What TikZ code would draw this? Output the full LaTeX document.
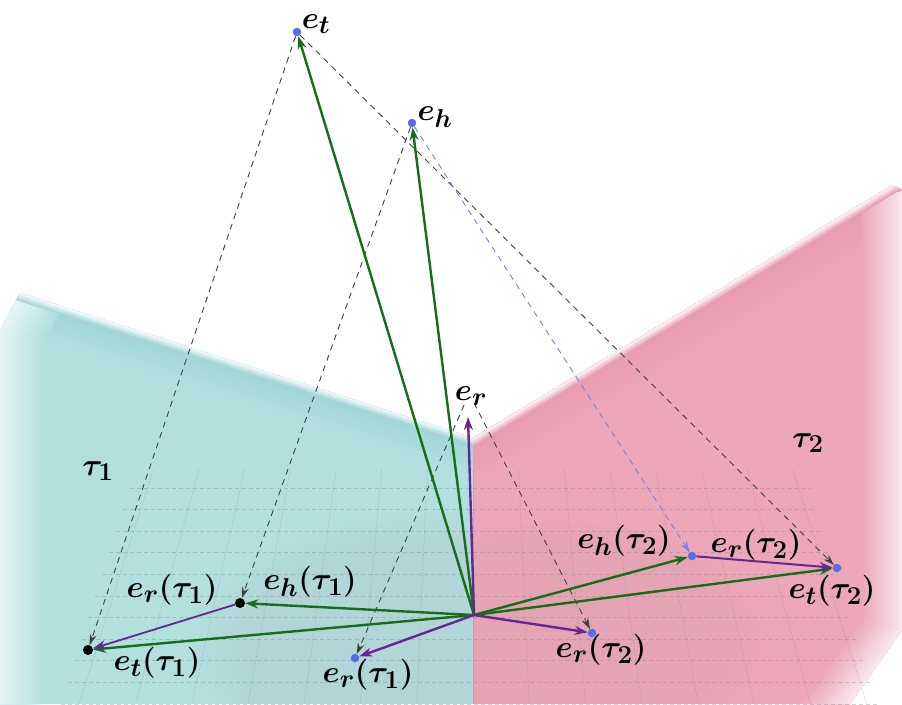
\documentclass[tikz,border=0pt]{standalone}
\usepackage{amsmath,bm}
\usetikzlibrary{arrows.meta,fadings}
\definecolor{cyanplane}{RGB}{178,224,223}
\definecolor{cyandark}{RGB}{163,215,215}
\definecolor{cyangray}{RGB}{180,204,208}
\definecolor{pinkplane}{RGB}{236,167,185}
\definecolor{pinkdark}{RGB}{232,156,177}
\definecolor{vgreen}{RGB}{22,110,25}
\definecolor{vpurple}{RGB}{100,40,145}
\definecolor{vblue}{RGB}{85,110,230}
\definecolor{gridcol}{RGB}{120,120,135}
\begin{document}
\begin{tikzpicture}[x=1pt,y=-1pt,
  every node/.style={font=\fontsize{24.88}{30}\selectfont\boldmath},
  lab/.style={inner sep=0pt,scale=1.245},
  dotb/.style={circle,fill=vblue,inner sep=0pt,minimum size=8.5pt},
  dotk/.style={circle,fill=black,inner sep=0pt,minimum size=10pt},
  garrow/.style={draw=vgreen,line width=2.4pt,-{Stealth[length=13pt,width=9pt]}},
  parrow/.style={draw=vpurple,line width=2.4pt,-{Stealth[length=13pt,width=9pt]}},
  proj/.style={draw=black!75,line width=0.9pt,dash pattern=on 6pt off 5pt,-{Stealth[length=11pt,width=7pt]}},
  projb/.style={proj,draw=vblue!85},
  gridh/.style={draw=gridcol,opacity=0.33,line width=0.8pt,dash pattern=on 4pt off 3pt},
  gridv/.style={draw=gridcol,opacity=0.33,line width=0.7pt,dash pattern=on 1.5pt off 1.5pt},
  edge/.style={line join=round,line cap=butt}]
\fill[white] (0,0) rectangle (902,704);
\useasboundingbox (0,0) rectangle (902,704);

% ---- cyan plane tau_1
\begin{scope}
  \clip (20,293) -- (473,438) -- (473,704) -- (0,704) -- (0,330) -- cycle;
  \fill[cyanplane] (0,280) rectangle (480,704);
  % darker band under the top edge
  \foreach \d in {40,38,...,10} {
    \pgfmathtruncatemacro\p{max(0,min(100,(40-\d)*100/30))}
    \draw[edge,line width=2*\d pt,color=cyandark!\p!cyanplane] (500,446) -- (20,293) -- (-20,287);
  }
  \fill[cyangray,opacity=0.45,path fading=circle with fuzzy edge 20 percent] (430,650) ellipse (240 and 140);
  % wide fade on the left
  \foreach \d in {44,42,...,2} {
    \pgfmathtruncatemacro\q{30+\d*70/44}
    \draw[edge,line width=2*\d pt,color=cyanplane!\q!white] (0,720) -- (0,330) -- (20,293) -- (40,256);
  }
  % soft top edge
  \foreach \d in {8,7,...,1} {
    \pgfmathtruncatemacro\q{\d*12.5}
    \draw[edge,line width=2*\d pt,color=cyandark!\q!white] (500,446) -- (20,293) -- (-20,287);
  }
\end{scope}

% ---- pink plane tau_2
\begin{scope}
  \clip (473,438) -- (893,185) -- (902,190) -- (902,630) -- (850,704) -- (473,704) -- cycle;
  \fill[pinkplane] (470,180) rectangle (902,704);
  \foreach \d in {40,38,...,10} {
    \pgfmathtruncatemacro\p{max(0,min(100,(40-\d)*100/30))}
    \draw[edge,line width=2*\d pt,color=pinkdark!\p!pinkplane] (450,452) -- (893,185) -- (910,180);
  }
  \fill[gray,opacity=0.07,path fading=circle with fuzzy edge 20 percent] (560,640) ellipse (200 and 120);
  \foreach \d in {40,38,...,2} {
    \pgfmathtruncatemacro\q{25+\d*75/40}
    \draw[edge,line width=2*\d pt,color=pinkplane!\q!white] (830,730) -- (850,704) -- (902,630) -- (902,190) -- (902,140);
  }
  \foreach \d in {8,7,...,1} {
    \pgfmathtruncatemacro\q{\d*12.5}
    \draw[edge,line width=2*\d pt,color=pinkdark!\q!white] (450,452) -- (893,185) -- (910,180);
  }
\end{scope}

% ---- grid
\foreach \k in {-7,...,7} {
  \pgfmathsetmacro\xa{473+46.5*\k*(1010/1028)}
  \pgfmathsetmacro\xb{473+46.5*\k*(1244/1028)}
  \draw[gridv] (\xa,470) -- (\xb,704);
}
\foreach \i in {0,...,10} {
  \pgfmathsetmacro\yy{488+21.6*\i}
  \pgfmathsetmacro\sc{(\yy+540)/1028}
  \pgfmathsetmacro\xl{473-325.5*\sc-18}
  \pgfmathsetmacro\xr{473+325.5*\sc+12}
  \draw[gridh] (\xl,\yy) -- (\xr,\yy);
}

% ---- points
\coordinate (O) at (474,615);
\coordinate (erTip) at (468,417);
\node[dotb] (et) at (297,32) {};
\node[dotb] (eh) at (412,123) {};
\node[dotk] (et1) at (88,650) {};
\node[dotk] (eh1) at (240,603) {};
\node[dotb] (er1) at (355,658) {};
\node[dotb] (eh2) at (692,556) {};
\node[dotb] (et2) at (837,568) {};
\node[dotb] (er2) at (592,633) {};

% ---- projection lines
\draw[proj] (et) -- (et1);
\draw[proj] (eh) -- (eh1);
\draw[proj] (et) -- (et2);
\draw[projb] (eh) -- (eh2);
\draw[proj] ([xshift=-4pt,yshift=12pt]erTip) -- (er1);
\draw[proj] ([xshift=6pt,yshift=14pt]erTip) -- (er2);

% ---- vectors
\draw[garrow] (O) -- (et);
\draw[garrow] (O) -- (eh);
\draw[parrow] (O) -- (erTip);
\draw[garrow] (O) -- (et1);
\draw[garrow] (O) -- (eh1);
\draw[parrow] (O) -- (er1);
\draw[parrow,line width=1.8pt] (eh1) -- (et1);
\draw[garrow] (O) -- (eh2);
\draw[garrow] (O) -- (et2);
\draw[parrow] (O) -- (er2);
\draw[parrow,line width=2pt] (eh2) -- (et2);

% ---- labels
\node[lab] (Let) at (316,24) {$e_t$};
\node[lab] (Leh) at (435,117) {$e_h$};
\node[lab] (Ler) at (471,396) {$e_r$};
\node[lab] (Lt1) at (98,471) {$\tau_1$};
\node[lab] (Lt2) at (808,443) {$\tau_2$};
\node[lab] (Ler1a) at (172,590) {$e_r(\tau_1)$};
\node[lab] (Leh1) at (310,582) {$e_h(\tau_1)$};
\node[lab] (Let1) at (157,663) {$e_t(\tau_1)$};
\node[lab] (Ler1b) at (368,675) {$e_r(\tau_1)$};
\node[lab] (Leh2) at (624,541) {$e_h(\tau_2)$};
\node[lab] (Ler2a) at (756,545) {$e_r(\tau_2)$};
\node[lab] (Let2) at (832,591) {$e_t(\tau_2)$};
\node[lab] (Ler2b) at (601,650) {$e_r(\tau_2)$};
\end{tikzpicture}
\end{document}
